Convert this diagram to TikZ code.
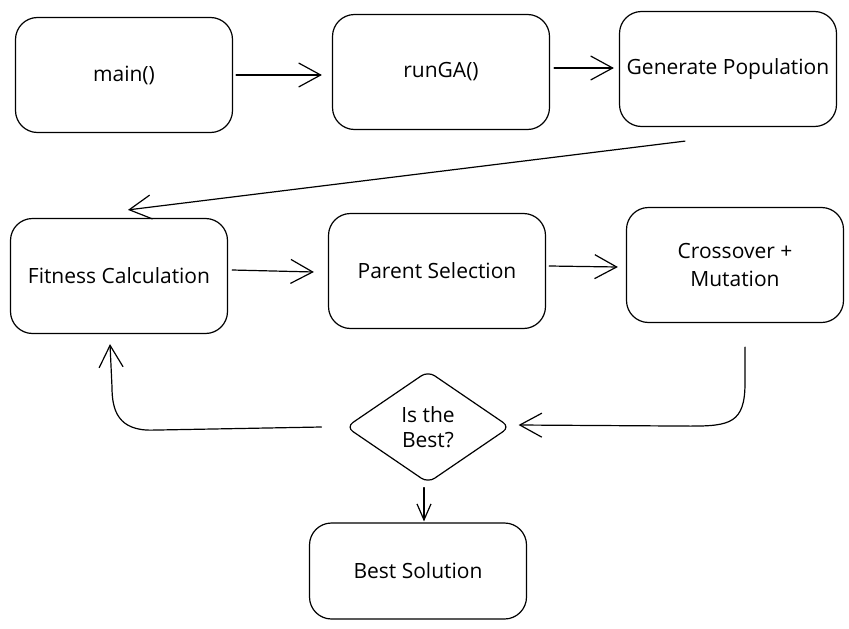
\documentclass[tikz,border=0pt]{standalone}
\usepackage{fontspec}
\setmainfont{Open Sans}
\usetikzlibrary{arrows.meta,shapes.geometric,calc}
\begin{document}
\begin{tikzpicture}[x=1pt,y=-1pt,
  box/.style={draw,line width=1.2pt,rounded corners=22pt,minimum width=217pt,minimum height=115pt,inner sep=0pt,font=\fontsize{21}{28}\selectfont,align=center},
  decision/.style={draw,diamond,line width=1.2pt,rounded corners=8pt,minimum width=164pt,minimum height=112pt,inner sep=0pt,font=\fontsize{21}{25}\selectfont,align=center},
  arr/.style={line width=1.2pt,line cap=round,-{Straight Barb[length=22pt,width=24pt,line width=1.2pt]}},
  smallarr/.style={line width=1.2pt,line cap=round,-{Straight Barb[length=16pt,width=14pt,line width=1.2pt]}}]
\fill[white] (0,0) rectangle (849,629);
\useasboundingbox (0,0) rectangle (849,629);

\node[box] (main) at (124,75) {main()};
\node[box] (run) at (441,72) {runGA()};
\node[box] (gen) at (728,69) {Generate Population};
\node[box] (fit) at (119,276) {Fitness Calculation};
\node[box] (par) at (437,271) {Parent Selection};
\node[box] (cro) at (735,265) {Crossover +\\Mutation};
\node[decision] (dec) at (428,427) {Is the\\Best?};
\node[box,minimum height=96pt] (best) at (418,571) {Best Solution};

\draw[arr] ($(main.east)+(3,0)$) -- ($(run.west)+(-10,3)$);
\draw[arr] ($(run.east)+(4,-4)$) -- ($(gen.west)+(-5,-1)$);
\draw[arr] ($(gen.south)+(-43,14)$) -- ($(fit.north)+(9,-8)$);
\draw[arr] ($(fit.east)+(4,-6)$) -- ($(par.west)+(-14,1)$);
\draw[arr] ($(par.east)+(3,-5)$) -- ($(cro.west)+(-8,2)$);
\draw[arr] ($(cro.south)+(10,24)$) -- ($(cro.south)+(10,60)$) .. controls ($(cro.south)+(10,100)$) and ($(cro.south)+(-5,103)$) .. ($(cro.south)+(-45,103)$) -- ($(dec.east)+(8,-2)$);
\draw[arr] ($(dec.west)+(-24,0)$) -- ($(fit.south)+(34,96)$) .. controls ($(fit.south)+(-1,97)$) and ($(fit.south)+(-7,76)$) .. ($(fit.south)+(-7,53)$) -- ($(fit.south)+(-9,10)$);
\draw[smallarr] ($(dec.south)+(-4,4)$) -- ($(best.north)+(6,-1)$);
\end{tikzpicture}
\end{document}
